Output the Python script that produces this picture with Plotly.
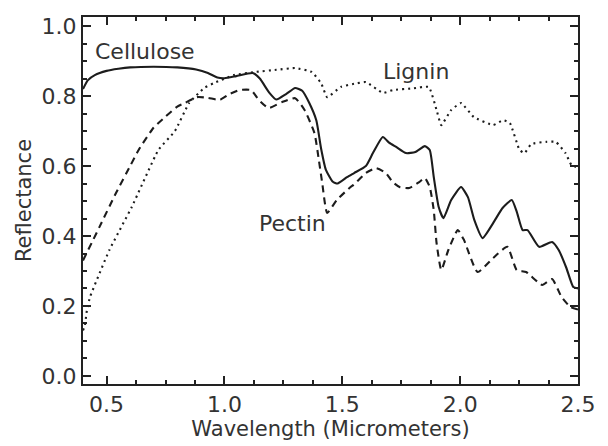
import plotly.graph_objects as go

cell_x = [0.40, 0.42, 0.45, 0.50, 0.55, 0.60, 0.70, 0.80, 0.88, 0.93, 0.97, 1.00, 1.05, 1.12,
          1.15, 1.19, 1.22, 1.26, 1.30, 1.33, 1.36, 1.39, 1.41, 1.43, 1.46, 1.48, 1.52, 1.55,
          1.60, 1.63, 1.672, 1.70, 1.73, 1.77, 1.81, 1.85, 1.871, 1.888, 1.909, 1.929, 1.962,
          2.004, 2.033, 2.06, 2.095, 2.14, 2.18, 2.219, 2.24, 2.265, 2.286, 2.335, 2.39, 2.418,
          2.45, 2.48, 2.50]
cell_y = [0.82, 0.845, 0.86, 0.872, 0.878, 0.882, 0.884, 0.882, 0.876, 0.866, 0.853, 0.851,
          0.857, 0.866, 0.85, 0.81, 0.79, 0.805, 0.823, 0.815, 0.78, 0.73, 0.65, 0.59, 0.555,
          0.55, 0.568, 0.58, 0.60, 0.637, 0.683, 0.666, 0.654, 0.637, 0.64, 0.657, 0.646, 0.569,
          0.483, 0.451, 0.503, 0.54, 0.511, 0.446, 0.394, 0.437, 0.48, 0.503, 0.47, 0.417,
          0.417, 0.369, 0.383, 0.36, 0.31, 0.254, 0.25]

pect_x = [0.40, 0.47, 0.54, 0.60, 0.636, 0.70, 0.748, 0.80, 0.831, 0.885, 0.93, 0.98, 1.02,
          1.063, 1.113, 1.146, 1.187, 1.245, 1.30, 1.34, 1.382, 1.40, 1.415, 1.436, 1.477,
          1.535, 1.548, 1.60, 1.643, 1.685, 1.714, 1.743, 1.784, 1.826, 1.85, 1.871, 1.888,
          1.90, 1.92, 1.95, 1.99, 2.016, 2.074, 2.14, 2.20, 2.24, 2.28, 2.348, 2.39, 2.43,
          2.468, 2.50]
pect_y = [0.33, 0.426, 0.523, 0.60, 0.646, 0.71, 0.74, 0.77, 0.78, 0.797, 0.795, 0.789, 0.805,
          0.817, 0.817, 0.789, 0.766, 0.783, 0.794, 0.76, 0.694, 0.62, 0.551, 0.466, 0.503,
          0.54, 0.546, 0.58, 0.594, 0.58, 0.554, 0.54, 0.537, 0.554, 0.566, 0.54, 0.474,
          0.38, 0.303, 0.36, 0.417, 0.389, 0.297, 0.337, 0.369, 0.303, 0.297, 0.26, 0.277,
          0.226, 0.197, 0.19]

lig_x = [0.40, 0.408, 0.417, 0.43, 0.512, 0.607, 0.72, 0.79, 0.85, 0.914, 0.955, 1.04,
         1.133, 1.22, 1.30, 1.37, 1.41, 1.436, 1.494, 1.55, 1.60, 1.672, 1.714, 1.80, 1.867,
         1.90, 1.92, 1.962, 2.004, 2.058, 2.14, 2.182, 2.211, 2.252, 2.273, 2.302, 2.364,
         2.406, 2.447, 2.472, 2.50]
lig_y = [0.13, 0.145, 0.19, 0.226, 0.36, 0.483, 0.646, 0.70, 0.78, 0.823, 0.837, 0.86,
         0.869, 0.875, 0.88, 0.869, 0.837, 0.797, 0.826, 0.835, 0.84, 0.809, 0.817, 0.822,
         0.826, 0.76, 0.717, 0.76, 0.78, 0.74, 0.717, 0.731, 0.723, 0.646, 0.637, 0.663,
         0.669, 0.669, 0.637, 0.603, 0.595]

labels = ["Cellulose", "Lignin", "Pectin"]
label_x = [0.665, 1.813, 1.287]
label_y = [0.926, 0.871, 0.437]

x_tickvals = [0.5, 1.0, 1.5, 2.0, 2.5]
y_tickvals = [0.0, 0.2, 0.4, 0.6, 0.8, 1.0]

LINE = "#1c1c1c"
TXT = "#333333"
FONT = "DejaVu Sans"

fig = go.Figure()
fig.add_trace(go.Scatter(x=cell_x, y=cell_y, mode="lines", line=dict(color=LINE, width=2.1, shape="spline", smoothing=0.5)))
fig.add_trace(go.Scatter(x=pect_x, y=pect_y, mode="lines", line=dict(color=LINE, width=2.1, dash="7px,5px", shape="spline", smoothing=0.5)))
fig.add_trace(go.Scatter(x=lig_x, y=lig_y, mode="lines", line=dict(color=LINE, width=2.1, dash="2px,4px", shape="spline", smoothing=0.4)))

for t, x, y in zip(labels, label_x, label_y):
    fig.add_annotation(x=x, y=y, xref="x", yref="y", text=t, showarrow=False,
                       font=dict(family=FONT, size=22, color=TXT))

axis_common = dict(showgrid=False, zeroline=False, showline=True, linecolor="#222",
                   linewidth=2, ticks="inside", tickcolor="#222", tickwidth=2, ticklen=8,
                   mirror="allticks", tickfont=dict(family=FONT, size=22, color=TXT))

fig.update_xaxes(range=[0.4, 2.5], tickvals=x_tickvals, ticktext=[f"{v:.1f}" for v in x_tickvals],
                 minor=dict(ticks="inside", dtick=0.125, tick0=0.5, ticklen=4, tickwidth=2, tickcolor="#222"),
                 title=dict(text="Wavelength (Micrometers)", font=dict(family=FONT, size=21, color=TXT), standoff=2),
                 **axis_common)
fig.update_yaxes(range=[-0.023, 1.026], tickvals=y_tickvals, ticktext=[f"{v:.1f}" for v in y_tickvals],
                 minor=dict(ticks="inside", dtick=0.05, tick0=0, ticklen=4, tickwidth=2, tickcolor="#222"),
                 title=dict(text="Reflectance", font=dict(family=FONT, size=21, color=TXT), standoff=4),
                 **axis_common)

fig.update_layout(width=608, height=446, margin=dict(l=83, r=18, t=17, b=62),
                  paper_bgcolor="white", plot_bgcolor="white", showlegend=False)

fig.write_html("out.html")
